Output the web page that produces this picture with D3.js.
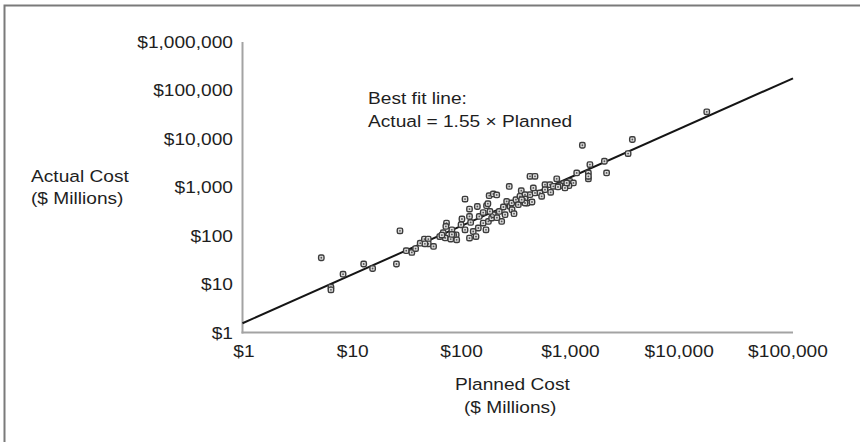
<!DOCTYPE html>
<html>
<head>
<meta charset="utf-8">
<script src="https://cdn.jsdelivr.net/npm/d3@7"></script>
<style>
  html, body { margin: 0; padding: 0; background: #fff; }
  svg { display: block; }
  text { font-family: "Liberation Sans", Arial, sans-serif; fill: #1e1e1e; }
</style>
</head>
<body>
<svg id="chart" width="860" height="442"></svg>
<script>
// Planned vs. actual cost of projects, $ millions
const planned = [
  5.3, 6.5, 6.5, 8.4, 13, 15.7, 26, 28, 32, 36, 39, 43, 47, 51, 51, 57, 47.5,
  111, 75, 70, 73, 104, 102, 111, 122, 125, 144, 150, 163, 175, 185, 202, 217,
  163, 182, 195, 202, 229, 250, 241, 283, 268, 288, 298, 326, 355, 343, 365,
  403, 439, 488, 471, 439, 488, 381, 415, 458, 84, 92, 93, 132, 147, 140, 173,
  122, 773, 1180, 1560, 2120, 2220, 1510, 1510, 1510, 1020, 1100, 1000, 890,
  828, 920, 603, 670, 603, 680, 542, 562, 395, 395, 395, 368, 719, 3500, 3830,
  1330, 18500, 122, 794, 955, 180, 188, 74, 65, 87, 68, 82, 84, 218, 259, 300,
  313
];
const actual = [
  35, 8.6, 7.6, 16, 26, 21, 26, 126, 49, 45, 54, 70, 85, 85, 68, 60, 68,
  570, 182, 115, 90, 221, 168, 132, 250, 188, 400, 250, 300, 416, 670, 727, 693,
  182, 197, 231, 271, 317, 391, 197, 1040, 510, 403, 473, 554, 648, 436, 851,
  670, 703, 762, 968, 1680, 1680, 511, 473, 496, 132, 104, 82, 122, 144, 96, 132,
  89, 1490, 1980, 2940, 3440, 1980, 1980, 1490, 1680, 1325, 1230, 1080, 1190,
  1080, 968, 1130, 1130, 892, 784, 762, 648, 703, 572, 473, 554, 1044, 4960, 9680,
  7370, 36200, 355, 1014, 1228, 457, 317, 155, 96, 104, 103, 85, 106, 235, 271, 344,
  284
];
const xTickValues = [1, 10, 100, 1000, 10000, 100000];
const yTickValues = [1, 10, 100, 1000, 10000, 100000, 1000000];
const fitSlope = 1.55;   // Actual = 1.55 × Planned
const fitLabel = ["Best fit line:", "Actual = 1.55 \u00d7 Planned"];
const yTitle = ["Actual Cost", "($ Millions)"];
const xTitle = ["Planned Cost", "($ Millions)"];

const svg = d3.select("#chart");
const fmt = d => "$" + d3.format(",")(d);

// Outer frame (continues past the right and bottom edges)
svg.append("rect")
  .attr("x", 4.5).attr("y", 5.5)
  .attr("width", 1000).attr("height", 1000)
  .attr("fill", "none").attr("stroke", "#7a7a7a").attr("stroke-width", 2);

const x0 = 242.5, x1 = 786.5, xEnd = 793;
const y0 = 332.5, y1 = 42;
const x = d3.scaleLog().domain([1, 100000]).range([x0, x1]);
const y = d3.scaleLog().domain([1, 1000000]).range([y0, y1]);

// Text helper: glyphs are drawn slightly widened
const SX = 1.16, FS = 16.5;
function label(g, px, py, str, anchor) {
  g.append("g")
    .attr("transform", `translate(${px},${py}) scale(${SX},1)`)
    .append("text")
    .attr("text-anchor", anchor || "start")
    .attr("font-size", FS)
    .text(str);
}

// Axes: d3 axes for label placement, with hidden tick marks and domain
const yAxis = svg.append("g")
  .attr("transform", `translate(${x0},0)`)
  .call(d3.axisLeft(y).tickValues(yTickValues).tickFormat(fmt).tickSize(0).tickPadding(9));
yAxis.select(".domain").remove();
yAxis.selectAll(".tick text").each(function () {
  const tick = d3.select(this.parentNode);
  const str = d3.select(this).text();
  d3.select(this).remove();
  label(tick, -9.5, 5.5, str, "end");
});

const xAxis = svg.append("g")
  .attr("transform", `translate(0,${y0})`)
  .call(d3.axisBottom(x).tickValues(xTickValues).tickFormat(fmt).tickSize(0).tickPadding(9));
xAxis.select(".domain").remove();
xAxis.selectAll(".tick text").each(function () {
  const tick = d3.select(this.parentNode);
  const str = d3.select(this).text();
  d3.select(this).remove();
  label(tick, 1, 24, str, "middle");
});

// Axis lines
svg.append("line")
  .attr("x1", x0).attr("x2", x0).attr("y1", y1).attr("y2", y0 + 1)
  .attr("stroke", "#a3a3a3").attr("stroke-width", 2);
svg.append("line")
  .attr("x1", x0 - 1).attr("x2", xEnd).attr("y1", y0).attr("y2", y0)
  .attr("stroke", "#a3a3a3").attr("stroke-width", 2);

// Best fit line across the plotted planned range
const xMax = x.invert(xEnd);
svg.append("line")
  .attr("x1", x(1)).attr("y1", y(fitSlope * 1))
  .attr("x2", x(xMax)).attr("y2", y(fitSlope * xMax))
  .attr("stroke", "#151515").attr("stroke-width", 2);

// Project markers: ringed square with a dark centre
const pts = planned.map((p, i) => ({ p, a: actual[i] }));
const marks = svg.append("g").selectAll("g")
  .data(pts).join("g")
  .attr("transform", d => `translate(${x(d.p)},${y(d.a)})`);
marks.append("rect")
  .attr("x", -2.7).attr("y", -2.7)
  .attr("width", 5.4).attr("height", 5.4).attr("rx", 1.6)
  .attr("fill", "#dcdcdc").attr("stroke", "#3c3c3c").attr("stroke-width", 1.4);
marks.append("circle")
  .attr("r", 0.9).attr("fill", "#555");

// Annotation and titles
label(svg, 368, 104, fitLabel[0]);
label(svg, 368, 127, fitLabel[1]);
label(svg, 31, 182, yTitle[0]);
label(svg, 31, 204, yTitle[1]);
label(svg, 455, 390, xTitle[0]);
label(svg, 464, 413, xTitle[1]);
</script>
</body>
</html>
